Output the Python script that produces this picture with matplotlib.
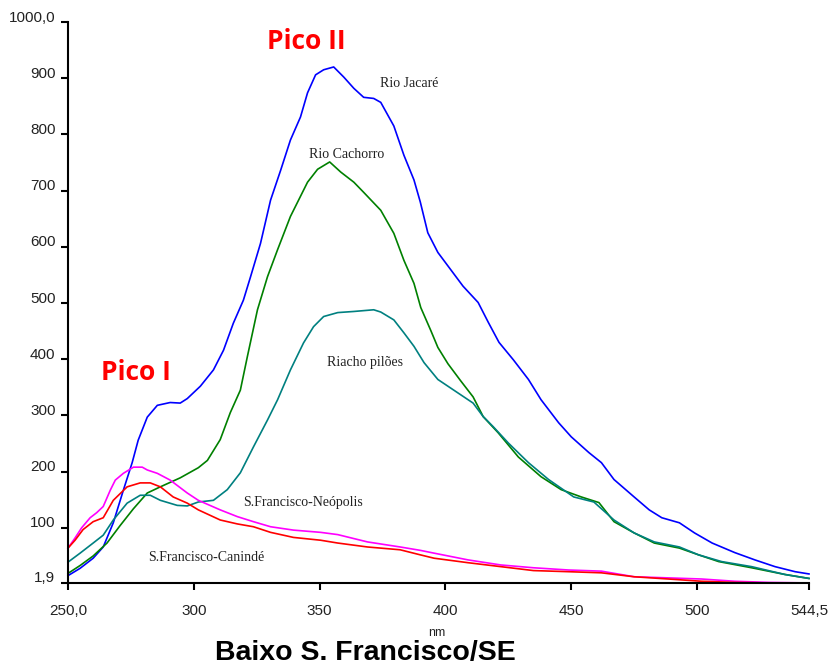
import matplotlib
matplotlib.use("Agg")
import matplotlib.pyplot as plt
import matplotlib.transforms as mtransforms

# Espectros de fluorescencia - Baixo S. Francisco/SE
jacare_x = [250, 254.8, 260, 264, 268, 272, 275.5, 277.9, 281.5, 285.5, 290.6, 294.6, 297.4,
            302.6, 307.8, 311.8, 315.7, 319.7, 322.5, 326.5, 330.5, 334.5, 338.4, 342.4,
            345.2, 348.4, 351.6, 355.6, 359.6, 363.6, 367.5, 371.5, 374.3, 379.5, 383.5,
            387.5, 390, 393, 397, 402, 407, 413, 417, 421.3, 427, 433, 438, 445, 450,
            457, 462, 467, 475, 481, 486, 493, 499, 506, 515, 523, 531, 539, 544.5]
jacare_y = [15, 28, 46, 66, 109, 167, 216, 256, 297, 318, 323, 322, 330,
            352, 381, 416, 464, 505, 546, 606, 683, 736, 790, 831,
            874, 906, 915, 920, 902, 882, 866, 864, 857, 815, 763,
            719, 680, 625, 590, 560, 530, 501, 466, 430, 399, 364, 328, 287, 262,
            234, 216, 186, 155, 132, 118, 109, 91, 73, 56, 43, 31, 22, 18]

cachorro_x = [250, 254.8, 260, 265.5, 270.7, 276, 281.5, 286.7, 294.6, 301.8, 305.4, 310.5,
              314.5, 318.5, 321.3, 325.3, 329.3, 333.3, 338.4, 345.2, 349.2, 354, 358.4,
              363.6, 367.5, 374.3, 379.5, 383.5, 387.5, 390.2, 394.2, 397, 401, 406, 411, 415,
              421, 429, 438, 446, 454, 461, 467, 475, 483, 493, 500.6, 508.6, 521.7, 535, 544.5]
cachorro_y = [19, 33, 50, 73, 104, 134, 162, 173, 189, 207, 220, 257,
              305, 345, 405, 488, 547, 595, 654, 715, 738, 751, 733,
              715, 697, 665, 624, 576, 535, 492, 451, 421, 392, 362, 333, 298,
              269, 226, 191, 168, 155, 145, 111, 91, 73, 64, 52, 40, 29, 17, 10]

piloes_x = [250, 254.8, 260, 264, 268, 273.5, 278.7, 282.7, 286.7, 293.4, 297.4, 301.8, 307.8,
            313.3, 318.5, 323.7, 329.3, 333.3, 338.4, 343.6, 347.6, 351.6, 357.2, 363.6,
            371.5, 374.3, 379.5, 383.5, 387.5, 391.5, 397, 405, 411, 415, 419, 425, 433, 441, 451,
            459, 467, 475, 483, 493, 500.6, 509.8, 521.7, 535, 544.5]
piloes_y = [39, 55, 73, 87, 114, 144, 158, 158, 149, 140, 139, 146, 149,
            168, 198, 244, 292, 328, 381, 429, 458, 476, 483, 485,
            488, 484, 470, 447, 423, 394, 364, 340, 322, 298, 280, 251, 216, 186, 155,
            146, 114, 91, 75, 66, 52, 40, 31, 17, 10]

neopolis_x = [250, 252.8, 255.4, 258.8, 261.4, 264, 266.8, 268.8, 272, 276, 279.5, 281.5,
              285.5, 290.6, 297.4, 301.8, 310.5, 317.3, 323.7, 330.5, 339.6, 350.4, 357.2,
              369, 382, 390, 395.5, 409, 422, 435, 449, 462, 475, 488.6, 501.8, 515, 528.5, 544.5]
neopolis_y = [64, 82, 100, 118, 127, 138, 167, 185, 197, 208, 208, 203,
              197, 185, 162, 149, 132, 120, 111, 102, 96, 92, 88,
              75, 66, 60, 55, 43, 34, 29, 25, 23, 13, 11, 9, 5, 3, 2]

caninde_x = [250, 252.8, 256, 260, 264, 268, 273.5, 278.7, 282.7, 286.7, 291.8, 297.4,
             301.8, 310.5, 317.3, 323.7, 330.5, 339.6, 350.4, 357.2, 369, 382, 390, 395.5,
             409, 422, 435, 449, 462, 475, 488.6, 501.8, 515, 528.5, 544.5]
caninde_y = [64, 78, 97, 111, 118, 149, 173, 180, 180, 173, 155, 144,
             132, 114, 107, 102, 92, 83, 78, 73, 66, 61, 52, 46,
             38, 31, 24, 22, 20, 13, 9, 5, 3, 2, 2]

x_ticks = [250, 300, 350, 400, 450, 500, 544.5]
x_labels = ["250,0", "300", "350", "400", "450", "500", "544,5"]
y_ticks = [1.9, 100, 200, 300, 400, 500, 600, 700, 800, 900, 1000]
y_labels = ["1,9", "100", "200", "300", "400", "500", "600", "700", "800", "900", "1000,0"]

fig = plt.figure(figsize=(8.29, 6.67), dpi=100)
ax = fig.add_axes([68 / 829, 1 - 583 / 667, (809 - 68) / 829, (583 - 22) / 667])

lw = 1.2
ax.plot(jacare_x, jacare_y, color="#0000ff", lw=lw, clip_on=False)
ax.plot(cachorro_x, cachorro_y, color="#008000", lw=lw, clip_on=False)
ax.plot(piloes_x, piloes_y, color="#008080", lw=lw, clip_on=False)
ax.plot(neopolis_x, neopolis_y, color="#ff00ff", lw=lw, clip_on=False)
ax.plot(caninde_x, caninde_y, color="#ff0000", lw=lw, clip_on=False)

ax.set_xlim(250, 544.5)
ax.set_ylim(1.9, 1000)
ax.set_xticks(x_ticks)
ax.set_xticklabels(x_labels, fontsize=11, family="Liberation Sans", color="#222222")
ax.set_yticks(y_ticks)
ax.set_yticklabels(y_labels, fontsize=11, family="Liberation Sans", color="#222222")
ax.tick_params(axis="x", length=5, width=1.5, pad=10)
ax.tick_params(axis="y", length=5, width=1.5, pad=4)

# y labels sit a bit above their ticks
shift = mtransforms.ScaledTranslation(0, 0.06, fig.dpi_scale_trans)
for lab in ax.get_yticklabels():
    lab.set_transform(lab.get_transform() + shift)

for s in ["top", "right"]:
    ax.spines[s].set_visible(False)
for s in ["left", "bottom"]:
    ax.spines[s].set_linewidth(1.5)

# peak labels
ax.text(328.9, 965, "Pico II", color="#ff0000", fontsize=19, fontweight="bold",
        family="Open Sans", ha="left", va="center")
ax.text(263.1, 376, "Pico I", color="#ff0000", fontsize=19, fontweight="bold",
        family="Open Sans", ha="left", va="center")

# series labels
serif = dict(fontsize=10, family="Liberation Serif", color="#222222", ha="left", va="center")
ax.text(373.9, 891, "Rio Jacaré", **serif)
ax.text(345.6, 765, "Rio Cachorro", **serif)
ax.text(352.8, 394, "Riacho pilões", **serif)
ax.text(319.7, 146, "S.Francisco-Neópolis", **serif)
ax.text(281.9, 48, "S.Francisco-Canindé", **serif)

fig.text(437 / 829, 1 - 636 / 667, "nm", fontsize=9, family="Liberation Sans",
         ha="center", va="baseline", color="#222222")
fig.text(365.5 / 829, 1 - 660 / 667, "Baixo S. Francisco/SE", fontsize=20.5,
         fontweight="bold", family="Liberation Sans", ha="center", va="baseline")

fig.savefig("out.png", dpi=100)
